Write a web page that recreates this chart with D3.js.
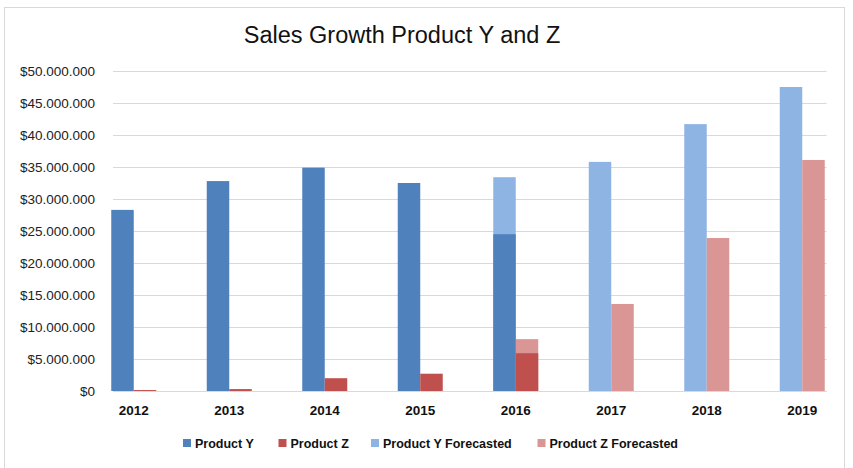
<!DOCTYPE html>
<html>
<head>
<meta charset="utf-8">
<script src="https://cdn.jsdelivr.net/npm/d3@7"></script>
<style>
  html, body { margin: 0; padding: 0; background: #fff; }
  svg { display: block; }
</style>
</head>
<body>
<svg id="chart" width="853" height="468"></svg>
<script>
// ---- data ----
const years = ["2012", "2013", "2014", "2015", "2016", "2017", "2018", "2019"];
const productY   = [28300000, 32800000, 34900000, 32500000, 24500000, null, null, null];
const productZ   = [150000, 300000, 2000000, 2700000, 5900000, null, null, null];
const productYF  = [null, null, null, null, 33400000, 35800000, 41700000, 47500000];
const productZF  = [null, null, null, null, 8100000, 13600000, 23900000, 36100000];
const yTicks = [0, 5000000, 10000000, 15000000, 20000000, 25000000, 30000000, 35000000, 40000000, 45000000, 50000000];
const seriesNames = ["Product Y", "Product Z", "Product Y Forecasted", "Product Z Forecasted"];
const title = "Sales Growth Product Y and Z";

const colors = {
  "Product Y": "#4f81bd",
  "Product Z": "#c0504d",
  "Product Y Forecasted": "#8eb4e3",
  "Product Z Forecasted": "#d99694"
};

const svg = d3.select("#chart");

// chart border
svg.append("rect")
  .attr("x", 4.5).attr("y", 7.5).attr("width", 840).attr("height", 470)
  .attr("fill", "#fff").attr("stroke", "#d9d9d9").attr("stroke-width", 1);

const plotLeft = 113, plotRight = 826.5;
const y = d3.scaleLinear().domain([0, 50000000]).range([391, 71]);
const x = d3.scaleBand().domain(years).range([86, 850]).paddingInner(0).paddingOuter(0);
const barW = 22.5;
const slot = d3.scaleBand().domain(["L", "R"])
  .range([x.bandwidth() / 2 - barW, x.bandwidth() / 2 + barW]);

const loc = d3.formatLocale({ decimal: ",", thousands: ".", grouping: [3], currency: ["$", ""] });
const fmt = loc.format("$,.0f");

// y axis + gridlines
const yAxis = svg.append("g")
  .attr("transform", `translate(${plotLeft},0)`)
  .call(d3.axisLeft(y).tickValues(yTicks).tickFormat(fmt)
    .tickSize(-(plotRight - plotLeft)).tickPadding(18));
yAxis.select(".domain").remove();
yAxis.selectAll(".tick line").attr("stroke", "#d9d9d9").attr("stroke-width", 1);
yAxis.selectAll(".tick text")
  .attr("font-family", "'Liberation Sans', Arial, sans-serif")
  .attr("font-size", 13.5).attr("fill", "#222");

// bars
const layers = [
  { name: "Product Y Forecasted", values: productYF, pos: "L" },
  { name: "Product Z Forecasted", values: productZF, pos: "R" },
  { name: "Product Y", values: productY, pos: "L" },
  { name: "Product Z", values: productZ, pos: "R" }
];
layers.forEach(layer => {
  svg.append("g").selectAll("rect")
    .data(years.map((yr, i) => ({ yr, v: layer.values[i] })).filter(d => d.v != null))
    .join("rect")
    .attr("x", d => x(d.yr) + slot(layer.pos))
    .attr("width", slot.bandwidth())
    .attr("y", d => y(d.v))
    .attr("height", d => y(0) - y(d.v))
    .attr("fill", colors[layer.name]);
});

// x axis
const xAxis = svg.append("g")
  .attr("transform", `translate(0,${y(0)})`)
  .call(d3.axisBottom(x).tickSize(0).tickPadding(14));
xAxis.select(".domain").remove();
xAxis.selectAll(".tick text")
  .attr("font-family", "'Liberation Sans', Arial, sans-serif")
  .attr("font-size", 13.5).attr("font-weight", "bold").attr("fill", "#111");
svg.append("line")
  .attr("x1", plotLeft).attr("x2", plotRight)
  .attr("y1", y(0) + 0.5).attr("y2", y(0) + 0.5)
  .attr("stroke", "#d9d9d9");

// title
svg.append("text")
  .attr("x", 402).attr("y", 43)
  .attr("text-anchor", "middle")
  .attr("font-family", "'Liberation Sans', Arial, sans-serif")
  .attr("font-size", 23.5).attr("fill", "#111")
  .text(title);

// legend
const legendX = [183, 278.5, 371, 537.5];
const lg = svg.append("g");
seriesNames.forEach((n, i) => {
  const g = lg.append("g").attr("transform", `translate(${legendX[i]},443)`);
  g.append("rect").attr("x", 0).attr("y", -4).attr("width", 8).attr("height", 8).attr("fill", colors[n]);
  g.append("text").attr("x", 12).attr("y", 4.5)
    .attr("font-family", "'Liberation Sans', Arial, sans-serif")
    .attr("font-size", 12.5).attr("font-weight", "bold").attr("fill", "#111")
    .text(n);
});
</script>
</body>
</html>
